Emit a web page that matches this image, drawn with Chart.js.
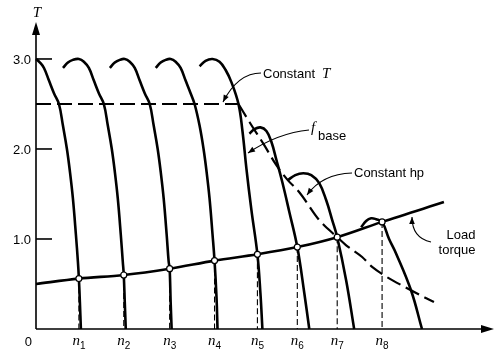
<!DOCTYPE html>
<html>
<head>
<meta charset="utf-8">
<script src="https://cdn.jsdelivr.net/npm/chart.js@4"></script>
<style>
  html, body { margin: 0; padding: 0; background: #fff; }
  canvas { display: block; }
</style>
</head>
<body>
<canvas id="myChart" width="495" height="353"></canvas>
<script>
// speed axis in drawing units (0 = standstill), torque T in per unit
const speedNames = ['1', '2', '3', '4', '5', '6', '7', '8'];
const opSpeed = [43, 88, 134, 179, 222, 262, 302, 347];
const opTorque = [0.56, 0.60, 0.67, 0.76, 0.83, 0.91, 1.02, 1.19];
const torqueTicks = [1.0, 2.0, 3.0];

// motor torque-speed curves, one per supply frequency
const curve1 = [[0, 3.0], [4, 2.96], [8, 2.9], [13, 2.76], [18, 2.62], [23, 2.5], [27, 2.26], [31, 2.0], [34, 1.75], [37, 1.45], [40, 1.05], [42, 0.75], [43, 0.56], [44, 0.3], [45, 0]];
const curve2 = [[27, 2.9], [32, 2.96], [37, 2.99], [43, 3.0], [48, 2.97], [53, 2.9], [58, 2.76], [63, 2.62], [68, 2.5], [72, 2.26], [76, 2.0], [79, 1.75], [82, 1.45], [85, 1.05], [87, 0.75], [88, 0.6], [89, 0.3], [90, 0]];
const curve3 = [[74, 2.9], [79, 2.96], [84, 2.99], [89, 3.0], [94, 2.97], [99, 2.9], [104, 2.76], [109, 2.62], [114, 2.5], [118, 2.26], [122, 2.0], [125, 1.75], [128, 1.45], [131, 1.05], [133, 0.75], [134, 0.67], [135, 0.3], [136, 0]];
const curve4 = [[120, 2.9], [125, 2.96], [130, 2.99], [135, 3.0], [140, 2.97], [145, 2.9], [150, 2.76], [155, 2.62], [159, 2.5], [164, 2.26], [168, 2.0], [171, 1.75], [174, 1.45], [177, 1.05], [179, 0.76], [181, 0.35], [182, 0]];
const curve5 = [[164, 2.92], [170, 2.98], [177, 3.0], [184, 2.97], [190, 2.88], [196, 2.74], [203, 2.5], [207, 2.2], [211, 1.78], [216, 1.32], [222, 0.83], [225, 0.4], [227, 0]];
const curve6 = [[214, 2.17], [219, 2.22], [225, 2.24], [231, 2.2], [236, 2.08], [241, 1.88], [247, 1.63], [254, 1.3], [262, 0.91], [269, 0.4], [274, 0]];
const curve7 = [[252, 1.65], [260, 1.71], [268, 1.73], [276, 1.71], [284, 1.62], [291, 1.43], [297, 1.21], [302, 1.02], [311, 0.54], [319, 0]];
const curve8 = [[326, 1.13], [331, 1.2], [336, 1.23], [341, 1.22], [347, 1.19], [354, 1.0], [361, 0.84], [376, 0.43], [387, 0]];

const loadTorque = [[0, 0.5], [43, 0.56], [88, 0.6], [134, 0.67], [179, 0.76], [222, 0.83], [262, 0.91], [302, 1.02], [347, 1.19], [409, 1.41]];
const constantT = [[0, 2.5], [203, 2.5]];
const constantHp = [[203, 2.5], [214, 2.3], [229, 2.04], [241, 1.82], [252, 1.66], [264, 1.52], [284, 1.21], [302, 1.02], [311, 0.93], [327, 0.8], [337, 0.69], [376, 0.43], [399, 0.3]];

const pts = arr => arr.map(p => ({ x: p[0], y: p[1] }));

const dropLines = [];
opSpeed.forEach((s, i) => {
    dropLines.push({ x: s, y: opTorque[i] }, { x: s, y: 0 }, { x: s, y: null });
});

const curveStyle = {
    borderColor: '#000',
    borderWidth: 2.6,
    pointRadius: 0,
    tension: 0.4,
    fill: false,
    clip: false
};

const datasets = [
    {
        label: 'Operating points',
        data: opSpeed.map((s, i) => ({ x: s, y: opTorque[i] })),
        showLine: false,
        pointRadius: 3,
        pointBackgroundColor: '#fff',
        pointBorderColor: '#000',
        pointBorderWidth: 1.2
    },
    { ...curveStyle, label: 'Load torque', data: pts(loadTorque), cubicInterpolationMode: 'monotone' },
    { ...curveStyle, label: 'n1', data: pts(curve1) },
    { ...curveStyle, label: 'n2', data: pts(curve2) },
    { ...curveStyle, label: 'n3', data: pts(curve3) },
    { ...curveStyle, label: 'n4', data: pts(curve4) },
    { ...curveStyle, label: 'n5', data: pts(curve5) },
    { ...curveStyle, label: 'n6', data: pts(curve6) },
    { ...curveStyle, label: 'n7', data: pts(curve7) },
    { ...curveStyle, label: 'n8', data: pts(curve8) },
    { ...curveStyle, label: 'Constant T', data: pts(constantT), borderWidth: 2.2, borderDash: [15, 6], tension: 0 },
    { ...curveStyle, label: 'Constant hp', data: pts(constantHp), borderWidth: 2.2, borderDash: [15, 6], cubicInterpolationMode: 'monotone' },
    { ...curveStyle, label: 'drops', data: dropLines, borderWidth: 1.1, borderDash: [6, 3], tension: 0, spanGaps: false }
];

function arrowHead(ctx, fx, fy, tx, ty, len, half) {
    const a = Math.atan2(ty - fy, tx - fx);
    ctx.beginPath();
    ctx.moveTo(tx, ty);
    ctx.lineTo(tx - len * Math.cos(a) + half * Math.sin(a), ty - len * Math.sin(a) - half * Math.cos(a));
    ctx.lineTo(tx - len * Math.cos(a) - half * Math.sin(a), ty - len * Math.sin(a) + half * Math.cos(a));
    ctx.closePath();
    ctx.fill();
}

function leader(ctx, x0, y0, cx, cy, x1, y1) {
    ctx.beginPath();
    ctx.moveTo(x0, y0);
    ctx.quadraticCurveTo(cx, cy, x1, y1);
    ctx.stroke();
    arrowHead(ctx, cx, cy, x1, y1, 7, 2.8);
}

const decor = {
    id: 'decor',
    afterDatasetsDraw(chart) {
        const ctx = chart.ctx;
        const xs = chart.scales.x;
        const ys = chart.scales.y;
        const x0 = xs.getPixelForValue(0);
        const y0 = ys.getPixelForValue(0);
        ctx.save();
        ctx.strokeStyle = '#000';
        ctx.fillStyle = '#000';
        ctx.setLineDash([]);

        // axes with arrows
        ctx.lineWidth = 1.6;
        ctx.beginPath();
        ctx.moveTo(x0, y0);
        ctx.lineTo(x0, 30);
        ctx.moveTo(x0, y0);
        ctx.lineTo(486, y0);
        ctx.stroke();
        arrowHead(ctx, x0, 60, x0, 22, 13, 4);
        arrowHead(ctx, 450, y0, 494, y0, 13, 4);

        // y ticks
        ctx.font = '13px "Liberation Sans", Arial, sans-serif';
        ctx.textAlign = 'right';
        ctx.textBaseline = 'middle';
        torqueTicks.forEach(t => {
            const y = ys.getPixelForValue(t);
            ctx.beginPath();
            ctx.moveTo(x0, y);
            ctx.lineTo(x0 + 16, y);
            ctx.stroke();
            ctx.fillText(t.toFixed(1), x0 - 5, y + 1);
        });
        ctx.fillText('0', x0 - 4, y0 + 13);

        // axis title T
        ctx.font = 'italic 15px "Liberation Serif", serif';
        ctx.textAlign = 'center';
        ctx.fillText('T', x0 + 1, 13);

        // n labels
        opSpeed.forEach((s, i) => {
            const x = xs.getPixelForValue(s);
            ctx.font = 'italic 15px "Liberation Serif", serif';
            ctx.textAlign = 'right';
            ctx.fillText('n', x + 1, y0 + 12);
            ctx.font = '10px "Liberation Sans", Arial, sans-serif';
            ctx.textAlign = 'left';
            ctx.fillText(speedNames[i], x + 1, y0 + 17);
        });

        // annotations
        ctx.textAlign = 'left';
        ctx.font = '13px "Liberation Sans", Arial, sans-serif';
        ctx.fillText('Constant', 263, 74);
        ctx.font = 'italic 15px "Liberation Serif", serif';
        ctx.fillText('T', 322, 74);

        ctx.fillText('f', 311, 128);
        ctx.font = '13px "Liberation Sans", Arial, sans-serif';
        ctx.fillText('base', 318, 136);

        ctx.fillText('Constant hp', 354, 173);

        ctx.textAlign = 'center';
        ctx.fillText('Load', 461, 235);
        ctx.fillText('torque', 457, 250);

        ctx.lineWidth = 1.1;
        leader(ctx, 261, 73, 238, 73, 223, 102);
        leader(ctx, 309, 130, 278, 133, 248, 153);
        leader(ctx, 352, 173, 322, 174, 307, 195);
        leader(ctx, 431, 242, 412, 238, 412, 217);

        ctx.restore();
    }
};

const config = {
    type: 'line',
    data: { datasets: datasets },
    options: {
        responsive: false,
        animation: false,
        layout: {
            padding: { left: 36, right: 4, top: 20, bottom: 24 }
        },
        plugins: {
            legend: { display: false },
            tooltip: { enabled: false }
        },
        scales: {
            x: { type: 'linear', min: 0, max: 455, display: false },
            y: { type: 'linear', min: 0, max: 3.433, display: false }
        }
    },
    plugins: [decor]
};

const ctx = document.getElementById('myChart');
if (ctx) {
    new Chart(ctx, config);
}
</script>
</body>
</html>
